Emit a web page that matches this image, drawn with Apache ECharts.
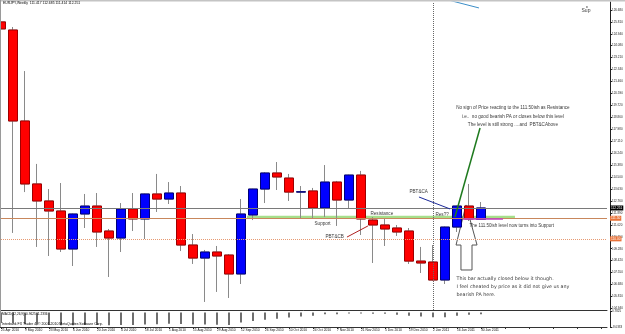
<!DOCTYPE html>
<html>
<head>
<meta charset="utf-8">
<script src="https://cdn.jsdelivr.net/npm/echarts@6.0.0/dist/echarts.min.js"></script>
<style>
  html, body { margin: 0; padding: 0; background: #fff; }
  #myChart { width: 625px; height: 334px; }
</style>
</head>
<body>
<div id="myChart"></div>
<script>
// EURJPY weekly, 25 Apr 2010 .. 30 Jan 2011
var weeks = ['25 Apr 2010','2 May 2010','9 May 2010','16 May 2010','23 May 2010','30 May 2010','6 Jun 2010','13 Jun 2010',
  '20 Jun 2010','27 Jun 2010','4 Jul 2010','11 Jul 2010','18 Jul 2010','25 Jul 2010','1 Aug 2010','8 Aug 2010',
  '15 Aug 2010','22 Aug 2010','29 Aug 2010','5 Sep 2010','12 Sep 2010','19 Sep 2010','26 Sep 2010','3 Oct 2010',
  '10 Oct 2010','17 Oct 2010','24 Oct 2010','31 Oct 2010','7 Nov 2010','14 Nov 2010','21 Nov 2010','28 Nov 2010',
  '5 Dec 2010','12 Dec 2010','19 Dec 2010','26 Dec 2010','2 Jan 2011','9 Jan 2011','16 Jan 2011','23 Jan 2011','30 Jan 2011'];
var opens  = [125.81,125.22,118.59,114.00,112.76,112.03,109.26,111.81,112.39,110.57,110.06,112.18,111.45,113.27,112.90,113.34,
  109.55,108.60,109.04,108.82,107.44,111.74,113.63,114.80,114.43,113.41,113.49,112.25,114.14,112.83,114.65,111.37,
  111.01,110.79,110.57,108.38,108.31,107.00,110.86,112.39,111.417];
var closes = [125.30,118.59,114.00,112.76,112.03,109.26,111.81,112.39,110.50,110.06,112.18,111.45,113.27,112.90,113.34,109.55,
  108.60,109.04,108.75,107.44,111.81,113.63,114.80,114.51,113.41,113.43,112.25,114.14,112.83,114.65,111.45,111.01,
  110.72,110.50,108.38,108.24,107.00,110.86,112.39,111.45,112.251];
var lows   = [122.31,110.43,113.41,109.41,108.75,109.04,108.02,110.79,109.41,107.22,109.04,110.57,109.99,111.96,112.54,109.11,
  108.17,105.40,106.13,105.69,106.71,111.37,112.61,113.56,112.76,111.45,111.45,111.59,110.94,112.18,110.28,108.24,
  109.48,110.21,108.17,107.51,106.95,106.71,110.50,111.30,111.414];
var highs  = [126.24,125.44,122.23,115.46,113.63,114.07,111.85,113.27,113.34,110.72,112.61,113.34,113.30,114.73,114.14,113.85,
  110.35,109.19,109.48,108.89,112.90,113.65,114.87,115.60,114.73,113.85,113.71,115.38,114.22,114.68,114.95,111.59,
  111.52,111.01,110.79,109.41,109.55,110.90,112.42,114.00,112.685];
// MACD(12,26,9) histogram
var macdHist = [-5.8,-6.0,-6.4,-6.8,-7.0,-7.1,-7.1,-7.0,-7.0,-7.1,-7.0,-6.9,-6.7,-6.5,-6.3,-6.4,-6.6,-6.7,-6.8,-7.0,
  -5.6,-4.7,-4.1,-3.5,-2.8,-2.2,-1.8,-0.95,-0.95,-0.55,-0.55,-0.7,-0.7,-1.3,-1.8,-2.2,-2.6,-2.6,-1.8,-1.3,-0.96];
var priceTicks = [126.680,125.810,124.940,124.080,123.210,122.340,121.460,120.590,119.720,118.860,117.980,117.110,116.240,
  115.380,114.500,113.630,112.760,111.890,111.020,110.150,109.280,108.420,107.550,106.680,105.810,104.940];
var macdTicks = [0.7825, -8.0333];
var bidPrice = 112.251;
var levelSolid = 111.50;
var levelDotted = 110.00;
var emptyBars = 10;

// hand drawn objects: x in bar slots (bar i sits at i+0.5), y in price
var drawnLines = [
  {pts: [[21.0,111.60],[43.33,111.60]], color: '#a6df8a', width: 2.5, z: 1},
  {pts: [[39.25,112.47],[40.17,109.55],[39.75,109.55],[39.75,107.73],[38.83,107.73],[38.83,109.55],[38.42,109.55],[39.25,112.47]], color: '#555', width: 1, z: 1},
  {pts: [[37.5,127.47],[40.33,126.83]], color: '#3c8ec8', width: 1, z: 5},
  {pts: [[35.33,113.05],[37.92,112.18]], color: '#1c2a9a', width: 1, z: 5},
  {pts: [[40.42,118.08],[38.33,111.59]], color: '#1e7a1e', width: 1.5, z: 5},
  {pts: [[29.33,110.13],[31.08,110.94]], color: '#b02020', width: 1, z: 5},
  {pts: [[39.0,111.45],[42.33,111.45]], color: '#c040c0', width: 1.5, z: 5}
];
var notes = [
  {x: 48.92, y: 126.61, text: 'Sup', size: 5},
  {x: 43.2, y: 119.54, text: 'No sign of Price reacting to the 111.50ish as Resistance', size: 4.6, align: 'center'},
  {x: 43.2, y: 118.88, text: 'i.e..  no good bearish PA or closes below this level', size: 4.6, align: 'center'},
  {x: 43.2, y: 118.30, text: 'The level is still strong ....and  PBT&CAbove', size: 4.6, align: 'center'},
  {x: 34.58, y: 113.41, text: 'PBT&CA', size: 4.6},
  {x: 36.75, y: 111.74, text: 'Res??', size: 4.6},
  {x: 31.33, y: 111.81, text: 'Resistance', size: 4.6},
  {x: 26.67, y: 111.08, text: 'Support', size: 4.6},
  {x: 27.58, y: 110.13, text: 'PBT&CB', size: 4.6},
  {x: 39.58, y: 110.94, text: 'The 111.50ish level now turns into Support', size: 4.5},
  {x: 38.5, y: 107.07, text: 'This bar actually closed below it though.', size: 4.8, font: 'DejaVu Sans'},
  {x: 38.5, y: 106.49, text: 'I feel cheated by price as it did not give us any', size: 4.8, font: 'DejaVu Sans'},
  {x: 38.5, y: 105.91, text: 'bearish PA here.', size: 4.8, font: 'DejaVu Sans'}
];

var cats = weeks.slice();
for (var i = 0; i < emptyBars; i++) cats.push('#' + i);

var candles = [], bodies = [];
for (var i = 0; i < weeks.length; i++) {
  candles.push([opens[i], closes[i], lows[i], highs[i]]);
  bodies.push([opens[i], closes[i], Math.min(opens[i], closes[i]), Math.max(opens[i], closes[i])]);
}
var last = weeks.length - 1;
var header = 'EURJPY,Weekly  ' + [opens[last], highs[last], lows[last], closes[last]].map(function (v) { return v.toFixed(3); }).join(' ');

function priceBox(bg, fg) {
  return {show: true, position: 'end', distance: 3, backgroundColor: bg, color: fg, fontSize: 3.2,
    fontFamily: 'Liberation Sans', padding: [1, 1]};
}

var series = [
  {
    name: 'wick', type: 'candlestick', xAxisIndex: 0, yAxisIndex: 0, data: candles, barWidth: 9, z: 2,
    itemStyle: {color: '#0000ff', color0: '#ff0000', borderColor: '#8a8a8a', borderColor0: '#8a8a8a', borderWidth: 1},
    markLine: {
      silent: true, symbol: ['none', 'none'], animation: false,
      data: [
        {yAxis: bidPrice, lineStyle: {color: '#7a7a7a', type: 'solid', width: 1},
          label: Object.assign(priceBox('#000', '#fff'), {formatter: bidPrice.toFixed(3)})},
        {yAxis: levelSolid, lineStyle: {color: '#c8875c', type: 'solid', width: 1},
          label: Object.assign(priceBox('#e8733a', '#fff'), {formatter: levelSolid.toFixed(2)})},
        {yAxis: levelDotted, lineStyle: {color: '#e79a72', type: 'dotted', width: 1},
          label: Object.assign(priceBox('#e8733a', '#fff'), {formatter: levelDotted.toFixed(2)})},
        {xAxis: '2 Jan 2011', lineStyle: {color: '#666', type: 'dotted', width: 1}, label: {show: false}}
      ]
    }
  },
  {
    name: 'body', type: 'candlestick', xAxisIndex: 0, yAxisIndex: 0, data: bodies, barWidth: 9, z: 3,
    itemStyle: {color: '#0000ff', color0: '#ff0000', borderColor: '#00007a', borderColor0: '#a00000', borderWidth: 1}
  },
  {
    name: 'MACD', type: 'bar', xAxisIndex: 2, yAxisIndex: 1, data: macdHist, barWidth: 1.3,
    itemStyle: {color: '#222'}
  },
  {
    name: 'notes', type: 'scatter', xAxisIndex: 1, yAxisIndex: 0, symbolSize: 1, z: 6, silent: true,
    itemStyle: {color: 'rgba(0,0,0,0)'},
    label: {show: true, position: [0, 0], verticalAlign: 'middle', color: '#000'},
    data: notes.map(function (n) {
      return {value: [n.x, n.y], label: {formatter: n.text, align: n.align || 'left', fontSize: n.size,
        fontFamily: n.font || 'Liberation Sans'}};
    })
  },
  {
    name: 'dot', type: 'scatter', xAxisIndex: 1, yAxisIndex: 0, symbolSize: 1.5, z: 6, silent: true,
    itemStyle: {color: '#000'}, data: [[49.33, 126.90]]
  }
];
drawnLines.forEach(function (l) {
  series.push({type: 'line', xAxisIndex: 1, yAxisIndex: 0, data: l.pts, symbol: 'none', silent: true, z: l.z,
    lineStyle: {color: l.color, width: l.width}});
});

var myChart = echarts.init(document.getElementById('myChart'));
myChart.setOption({
  animation: false,
  backgroundColor: '#fff',
  grid: [
    {left: -5, top: 2, width: 612, height: 308, outerBoundsMode: 'none'},
    {left: -5, top: 311, width: 612, height: 16, outerBoundsMode: 'none'}
  ],
  xAxis: [
    {type: 'category', gridIndex: 0, data: cats, boundaryGap: true,
      axisLine: {show: true, onZero: false, lineStyle: {color: '#333', width: 1}},
      axisTick: {show: false}, axisLabel: {show: false}, splitLine: {show: false}},
    {type: 'value', gridIndex: 0, min: 0, max: cats.length, show: false},
    {type: 'category', gridIndex: 1, data: cats, boundaryGap: true,
      axisLine: {show: true, onZero: false, lineStyle: {color: '#333', width: 1}},
      axisTick: {show: true, interval: 1, alignWithLabel: true, length: 2, lineStyle: {color: '#333'}},
      axisLabel: {interval: 1, align: 'left', margin: 2, fontSize: 3.3, fontFamily: 'Liberation Sans', color: '#111',
        formatter: function (v) { return v.charAt(0) === '#' ? '' : v; }},
      splitLine: {show: false}}
  ],
  yAxis: [
    {type: 'value', gridIndex: 0, position: 'right', offset: 3, min: 104.814, max: 127.263, splitLine: {show: false},
      axisLine: {show: true, onZero: false, lineStyle: {color: '#222'}},
      axisTick: {show: true, length: 2, customValues: priceTicks, lineStyle: {color: '#222'}},
      axisLabel: {customValues: priceTicks, formatter: function (v) { return v.toFixed(3); }, fontSize: 3,
        fontFamily: 'Liberation Sans', color: '#222', margin: 2}},
    {type: 'value', gridIndex: 1, position: 'right', offset: 3, min: -8.0333, max: 0.7825, splitLine: {show: false},
      axisLine: {show: true, onZero: false, lineStyle: {color: '#222'}},
      axisTick: {show: true, length: 2, customValues: macdTicks, lineStyle: {color: '#222'}},
      axisLabel: {customValues: macdTicks, formatter: function (v) { return v.toFixed(4); }, fontSize: 3,
        fontFamily: 'Liberation Sans', color: '#222', margin: 2}}
  ],
  graphic: [
    {type: 'rect', left: 0, top: 0, z: 100, shape: {width: 625, height: 1.5}, style: {fill: '#c4c4c4'}},
    {type: 'rect', left: 0, top: 0, z: 100, shape: {width: 1, height: 327}, style: {fill: '#9a9a9a'}},
    {type: 'text', left: 3, top: 2, z: 100, style: {text: header, fontSize: 3.4, fontFamily: 'Liberation Sans', fill: '#000'}},
    {type: 'text', left: 2, top: 312.5, z: 100, style: {text: 'MACD(12,26,9) -0.9625 -1.2336', fontSize: 3.2, fontFamily: 'Liberation Sans', fill: '#000'}},
    {type: 'text', left: 2, top: 322.2, z: 100, style: {text: 'Interbank FX Trader 4, \u00a9 2001-2010 MetaQuotes Software Corp.', fontSize: 3.5, fontFamily: 'Liberation Sans', fill: '#000'}}
  ],
  series: series
});
</script>
</body>
</html>
